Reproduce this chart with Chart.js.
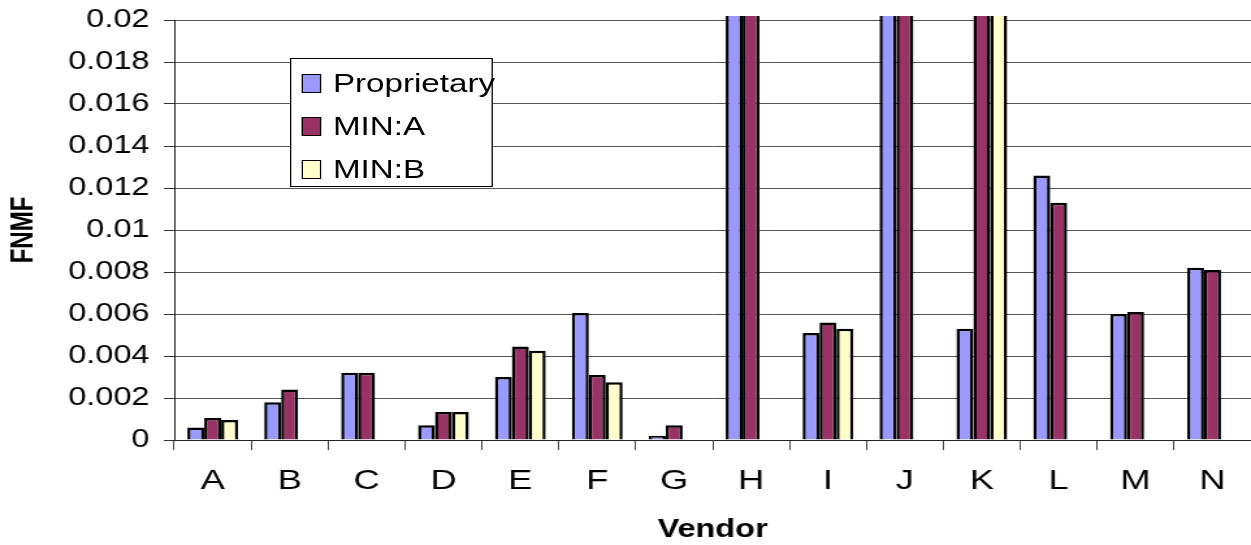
<!DOCTYPE html>
<html>
<head>
<meta charset="utf-8">
<script src="https://cdn.jsdelivr.net/npm/chart.js@4"></script>
<style>
  html, body { margin: 0; padding: 0; background: #fff; overflow: hidden; }
  #wrap { position: relative; width: 962px; height: 545px; transform: scaleX(1.3004); transform-origin: 0 0; }
  #c { position: absolute; left: 0; top: 0; }
  #legend { position: absolute; left: 223px; top: 58px; width: 156px; height: 129px; box-sizing: border-box;
            border: 1px solid #000; background: #fff; font-family: "Liberation Sans", Arial, sans-serif; font-size: 25.5px; color: #000; }
  .row { position: absolute; left: 0; height: 30px; display: flex; align-items: center; white-space: nowrap; }
  .sw { width: 13px; height: 17px; border: 1.5px solid #000; margin-left: 8px; margin-right: 9px; }
</style>
</head>
<body>
<div id="wrap">
  <canvas id="c" width="962" height="545"></canvas>
  <div id="legend"></div>
</div>
<script>
const categories = ['A','B','C','D','E','F','G','H','I','J','K','L','M','N'];
const seriesNames = ['Proprietary','MIN:A','MIN:B'];
const proprietary = [0.0006, 0.0018, 0.0032, 0.0007, 0.0030, 0.00605, 0.0002, 0.028, 0.0051, 0.034, 0.0053, 0.0126, 0.0060, 0.0082];
const minA        = [0.00105, 0.0024, 0.0032, 0.00133, 0.00445, 0.0031, 0.0007, 0.031, 0.0056, 0.036, 0.024, 0.0113, 0.0061, 0.0081];
const minB        = [0.00095, null, null, 0.00133, 0.00425, 0.00275, null, null, 0.0053, null, 0.022, null, null, null];
const yTickLabels = ['0','0.002','0.004','0.006','0.008','0.01','0.012','0.014','0.016','0.018','0.02'];
const colors = ['#9999FF', '#993366', '#FFFFCC'];

const FONT = '"Liberation Sans", Arial, sans-serif';
const values = [proprietary, minA, minB];

const datasets = seriesNames.map((name, i) => ({
  label: name,
  data: values[i],
  backgroundColor: colors[i],
  borderColor: '#000',
  borderWidth: 2.5,
  borderSkipped: 'bottom',
  categoryPercentage: 0.66,
  barPercentage: 1.0,
  clip: { left: 0, top: 4, right: 0, bottom: 0 }
}));

const chart = new Chart(document.getElementById('c'), {
  type: 'bar',
  data: { labels: categories, datasets },
  options: {
    responsive: false,
    animation: false,
    devicePixelRatio: 1,
    layout: { padding: { top: 20, right: 0, left: 0, bottom: 0 } },
    plugins: { legend: { display: false }, tooltip: { enabled: false } },
    scales: {
      x: {
        offset: true,
        grid: { offset: true, drawOnChartArea: false, drawTicks: true, tickLength: 10, color: '#444', lineWidth: 1 },
        border: { display: true, color: '#222', width: 1 },
        ticks: { color: '#000', font: { family: FONT, size: 28 }, padding: 14, maxRotation: 0 },
        title: { display: true, text: 'Vendor', color: '#000', font: { family: FONT, size: 25, weight: 'bold' }, padding: { top: 0, bottom: 0 } },
        afterFit: (s) => { s.height = 105; s.paddingLeft = 0; s.paddingRight = 0; }
      },
      y: {
        min: 0, max: 0.02,
        grid: { color: '#555', lineWidth: 1, drawTicks: true, tickLength: 8, tickColor: '#333' },
        border: { display: true, color: '#222', width: 1 },
        ticks: {
          stepSize: 0.002, color: '#000', font: { family: FONT, size: 25 }, padding: 11,
          callback: (v, i) => yTickLabels[i]
        },
        title: { display: true, text: 'FNMF', color: '#000', font: { family: FONT, size: 24, weight: 'bold' }, padding: { top: 4, bottom: 0 } },
        afterFit: (s) => { s.width = 134; s.paddingTop = 0; s.paddingBottom = 0; }
      }
    }
  }
});

// HTML legend built from the chart's datasets
const legend = document.getElementById('legend');
const rowCenters = [24, 67, 110];
chart.data.datasets.forEach((ds, i) => {
  const row = document.createElement('div');
  row.className = 'row';
  row.style.top = (rowCenters[i] - 15) + 'px';
  const sw = document.createElement('span');
  sw.className = 'sw';
  sw.style.background = ds.backgroundColor;
  const tx = document.createElement('span');
  tx.textContent = ds.label;
  row.appendChild(sw); row.appendChild(tx);
  legend.appendChild(row);
});
</script>
</body>
</html>
